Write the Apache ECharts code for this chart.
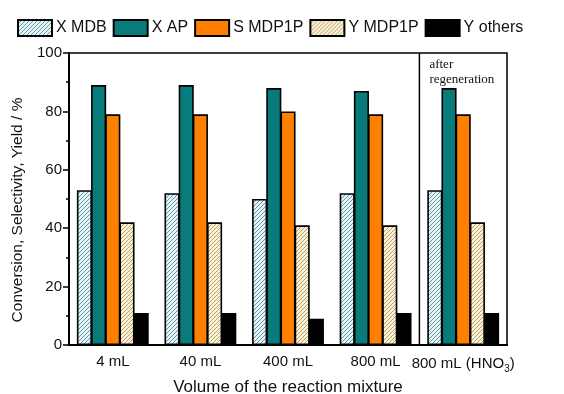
<!DOCTYPE html>
<html><head><meta charset="utf-8">
<script src="https://cdn.jsdelivr.net/npm/echarts@6/dist/echarts.min.js"></script>
<style>html,body{margin:0;padding:0;background:#fff}#c{width:564px;height:394px}</style>
</head><body><div id="c"></div>
<script>
const categories = ['4 mL', '40 mL', '400 mL', '800 mL', '800 mL (HNO3)'];
const seriesNames = ['X MDB', 'X AP', 'S MDP1P', 'Y MDP1P', 'Y others'];
const xMDB = [53, 52, 50, 52, 53];
const xAP = [89, 89, 88, 87, 88];
const sMDP1P = [79, 79, 80, 79, 79];
const yMDP1P = [42, 42, 41, 41, 42];
const yOthers = [11, 11, 9, 11, 11];
const yTicks = [0, 20, 40, 60, 80, 100];

function hatch(bg, line) {
  const c = document.createElement('canvas'); c.width = 4; c.height = 4;
  const g = c.getContext('2d');
  g.fillStyle = bg; g.fillRect(0, 0, 4, 4);
  g.strokeStyle = line; g.lineWidth = 1;
  g.beginPath();
  g.moveTo(0, 4); g.lineTo(4, 0);
  g.moveTo(-1, 1); g.lineTo(1, -1);
  g.moveTo(3, 5); g.lineTo(5, 3);
  g.stroke();
  return { image: c, repeat: 'repeat' };
}
const fills = [
  hatch('#e3f4f6', '#6d96a6'),
  '#0a7b7b',
  '#ff8000',
  hatch('#fbf2d8', '#b9a06c'),
  '#000000'
];
const dataSets = [xMDB, xAP, sMDP1P, yMDP1P, yOthers];
const FONT = 'Liberation Sans, Arial, sans-serif';

const chart = echarts.init(document.getElementById('c'), null, { renderer: 'canvas' });
chart.setOption({
  animation: false,
  backgroundColor: '#fff',
  legend: {
    left: 12, top: 14, itemWidth: 34, itemHeight: 16, itemGap: 6, icon: 'rect',
    textStyle: { fontSize: 16, color: '#111', fontFamily: FONT, padding: [0, 0, 0, -1] },
    data: seriesNames
  },
  grid: { left: 69, right: 57, top: 53, bottom: 49, show: true, borderColor: '#000', borderWidth: 1.5,
          containLabel: false, outerBoundsMode: 'none' },
  xAxis: {
    type: 'category', data: categories,
    axisLine: { lineStyle: { color: '#000', width: 2 } },
    axisTick: { alignWithLabel: true, length: 5, lineStyle: { color: '#000', width: 2 } },
    axisLabel: {
      color: '#111', fontSize: 15, fontFamily: FONT, margin: 9, interval: 0,
      formatter: v => v.replace('HNO3', 'HNO{sub|3}'),
      rich: { sub: { fontSize: 10, verticalAlign: 'bottom', padding: [10, 0, 0, 0], color: '#111', fontFamily: FONT } }
    },
    name: 'Volume of the reaction mixture', nameLocation: 'middle', nameGap: 31,
    nameTextStyle: { fontSize: 17, color: '#111', fontFamily: FONT }
  },
  yAxis: {
    type: 'value', min: yTicks[0], max: yTicks[yTicks.length - 1], interval: 20,
    axisLine: { show: true, lineStyle: { color: '#000', width: 2 } },
    axisTick: { show: true, length: 6, lineStyle: { color: '#000', width: 1.5 } },
    minorTick: { show: true, splitNumber: 2, length: 3, lineStyle: { color: '#000', width: 1.5 } },
    splitLine: { show: false },
    axisLabel: { color: '#111', fontSize: 15, fontFamily: FONT, margin: 7 },
    name: 'Conversion, Selectivity, Yield / %', nameLocation: 'middle', nameGap: 38,
    nameTextStyle: { fontSize: 15.5, color: '#111', fontFamily: FONT, padding: [0, 22, 0, 0] }
  },
  series: seriesNames.map((n, i) => ({
    name: n, type: 'bar', data: dataSets[i],
    barGap: '-6%', barCategoryGap: '18%',
    itemStyle: { color: fills[i], borderColor: '#000', borderWidth: 1.6 }
  }))
});

const x3 = chart.convertToPixel({ xAxisIndex: 0 }, categories[3]);
const x4 = chart.convertToPixel({ xAxisIndex: 0 }, categories[4]);
const yTop = chart.convertToPixel({ yAxisIndex: 0 }, yTicks[yTicks.length - 1]);
const yBot = chart.convertToPixel({ yAxisIndex: 0 }, yTicks[0]);
const xd = (x3 + x4) / 2;
chart.setOption({
  graphic: [
    { type: 'line', shape: { x1: xd, y1: yTop, x2: xd, y2: yBot }, style: { stroke: '#000', lineWidth: 1.5 } },
    { type: 'text', x: xd + 10, y: yTop + 4, style: { text: 'after\nregeneration', font: '13px "Liberation Serif", serif', fill: '#111', lineHeight: 15 } }
  ]
});
</script>
</body></html>
